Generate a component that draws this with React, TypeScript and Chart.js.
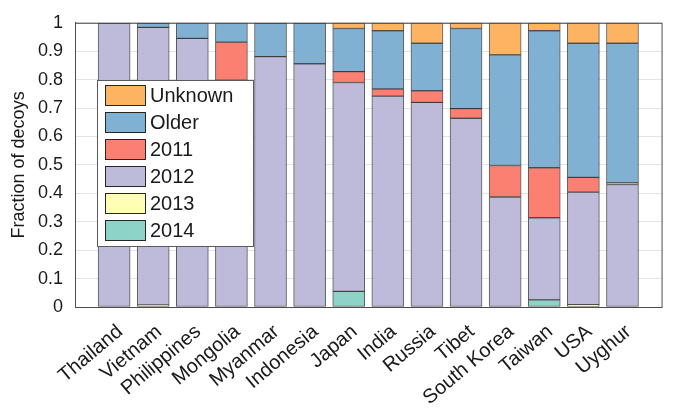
import React, { useEffect, useRef } from "react";
import { Chart, registerables } from "chart.js";

Chart.register(...registerables);

// Regions on the x axis; the blank entries pad both ends of the axis.
const categories = [
  "", "Thailand", "Vietnam", "Philippines", "Mongolia", "Myanmar", "Indonesia",
  "Japan", "India", "Russia", "Tibet", "South Korea", "Taiwan", "USA", "Uyghur", "",
];

// Fraction of decoys per region, by registration year.
const y2014 = [0, 0, 0, 0, 0, 0, 0, 0.055, 0, 0, 0, 0, 0.025, 0, 0, 0];
const y2013 = [0, 0, 0.007, 0, 0, 0, 0, 0, 0, 0, 0, 0, 0, 0.008, 0, 0];
const y2012 = [0, 0.998, 0.977, 0.945, 0.798, 0.881, 0.856, 0.735, 0.742, 0.72, 0.664, 0.387, 0.289, 0.396, 0.431, 0];
const y2011 = [0, 0, 0, 0, 0.134, 0, 0, 0.038, 0.025, 0.041, 0.034, 0.111, 0.176, 0.052, 0.006, 0];
const older = [0, 0, 0.014, 0.055, 0.068, 0.117, 0.142, 0.152, 0.205, 0.167, 0.282, 0.389, 0.482, 0.472, 0.491, 0];
const unknown = [0, 0.002, 0.002, 0, 0, 0.002, 0.002, 0.02, 0.028, 0.072, 0.02, 0.113, 0.028, 0.072, 0.072, 0];

const yTicks = [0, 0.1, 0.2, 0.3, 0.4, 0.5, 0.6, 0.7, 0.8, 0.9, 1];

const FONT = "'Liberation Sans', Arial, Helvetica, sans-serif";
const TEXT = "#1a1a1a";

// Frame around the plot area.
const framePlugin = {
  id: "frame",
  afterDatasetsDraw(chart: any) {
    const { ctx, chartArea: a } = chart;
    ctx.save();
    ctx.strokeStyle = "#4d4d4d";
    ctx.lineWidth = 1;
    ctx.strokeRect(a.left + 0.5, a.top + 0.5, a.right - a.left, a.bottom - a.top);
    ctx.restore();
  },
};

// Boxed legend placed inside the plot, newest category at the bottom.
const boxLegendPlugin = {
  id: "boxLegend",
  afterDraw(chart: any) {
    const { ctx } = chart;
    const items = chart.data.datasets.slice().reverse();
    const x = 97.5;
    const y = 80.5;
    const w = 156;
    const h = 166;
    ctx.save();
    ctx.fillStyle = "#ffffff";
    ctx.fillRect(x, y, w, h);
    ctx.strokeStyle = "#5a5a5a";
    ctx.lineWidth = 1;
    ctx.strokeRect(x, y, w, h);
    ctx.font = `20px ${FONT}`;
    ctx.textBaseline = "middle";
    ctx.textAlign = "left";
    items.forEach((ds: any, i: number) => {
      const ry = 85.5 + i * 27;
      ctx.fillStyle = ds.backgroundColor;
      ctx.fillRect(105.5, ry, 40, 20);
      ctx.strokeStyle = "#262626";
      ctx.strokeRect(105.5, ry, 40, 20);
      ctx.fillStyle = TEXT;
      ctx.fillText(ds.label, 150, ry + 11);
    });
    ctx.restore();
  },
};

export default function App() {
  const ref = useRef<HTMLCanvasElement | null>(null);

  useEffect(() => {
    const canvas = ref.current;
    if (!canvas) return;
    const seg = (label: string, data: number[], color: string) => ({
      label,
      data,
      backgroundColor: color,
      borderColor: "rgba(20,20,20,0.7)",
      borderWidth: 1,
      borderSkipped: false,
      barThickness: 32,
    });
    const chart = new Chart(canvas, {
      type: "bar",
      data: {
        labels: categories,
        datasets: [
          seg("2014", y2014, "#8dd3c7"),
          seg("2013", y2013, "#ffffb3"),
          seg("2012", y2012, "#bebada"),
          seg("2011", y2011, "#fb8072"),
          seg("Older", older, "#80b1d3"),
          seg("Unknown", unknown, "#fdb462"),
        ],
      },
      options: {
        animation: false,
        responsive: false,
        devicePixelRatio: 1,
        layout: { padding: { top: 16, right: 14, left: 0, bottom: 0 } },
        plugins: {
          legend: { display: false },
          tooltip: { enabled: false },
        },
        scales: {
          x: {
            stacked: true,
            offset: false,
            grid: { display: false, drawTicks: false },
            border: { display: true, color: "#4d4d4d" },
            ticks: {
              autoSkip: false,
              minRotation: 40,
              maxRotation: 40,
              padding: 13,
              labelOffset: 6,
              color: TEXT,
              font: { family: FONT, size: 20 },
            },
            afterFit(scale: any) {
              scale.height = 108;
            },
          },
          y: {
            stacked: true,
            min: 0,
            max: 1,
            afterBuildTicks(scale: any) {
              scale.ticks = yTicks.map((v) => ({ value: v }));
            },
            grid: { color: "#e3e3e3", drawTicks: false },
            border: { display: true, color: "#4d4d4d" },
            ticks: {
              padding: 12,
              color: TEXT,
              font: { family: FONT, size: 18 },
              callback: (v: any) => String(Number(Number(v).toFixed(1))),
            },
            title: {
              display: true,
              text: "Fraction of decoys",
              color: TEXT,
              font: { family: FONT, size: 18 },
              padding: { top: 8, bottom: 0 },
            },
            afterFit(scale: any) {
              scale.width = 75;
            },
          },
        },
      },
      plugins: [framePlugin, boxLegendPlugin],
    });
    return () => chart.destroy();
  }, []);

  return (
    <div style={{ position: "fixed", left: 0, top: 0, width: 690, height: 415, background: "#fff" }}>
      <canvas ref={ref} width={690} height={415} />
    </div>
  );
}
